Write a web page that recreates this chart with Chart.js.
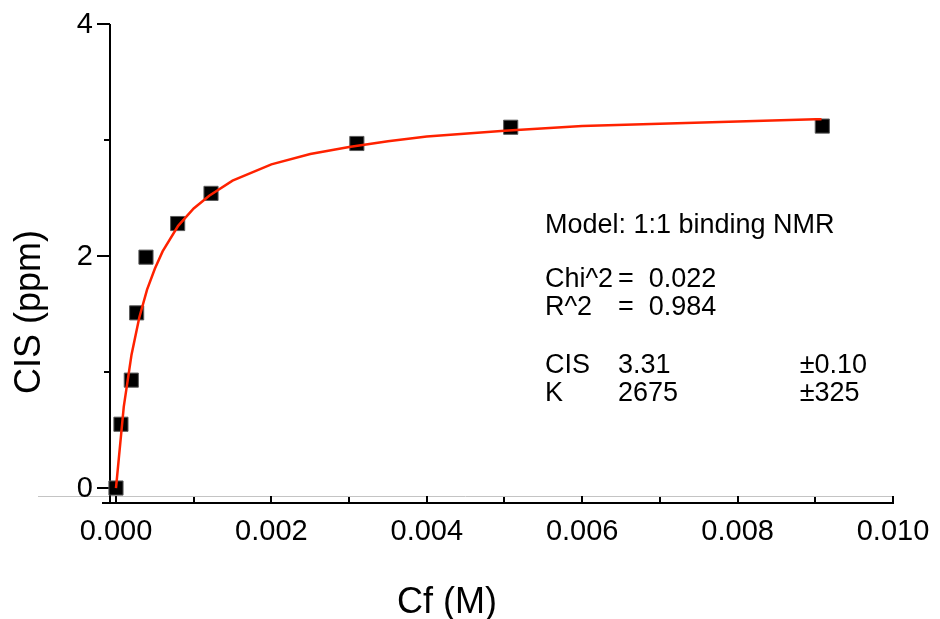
<!DOCTYPE html>
<html>
<head>
<meta charset="utf-8">
<title>CIS vs Cf</title>
<script src="https://cdn.jsdelivr.net/npm/chart.js@4/dist/chart.umd.min.js"></script>
<style>
  html, body { margin: 0; padding: 0; background: #fff; }
  #wrap { width: 940px; height: 619px; position: relative; }
</style>
</head>
<body>
<div id="wrap"><canvas id="bindingChart"></canvas></div>
<script>
// measured shifts
const cfValues  = [0, 0.000064, 0.000197, 0.000266, 0.000386, 0.000794, 0.001223, 0.00310, 0.00508, 0.00909];
const cisValues = [0, 0.55, 0.93, 1.51, 1.99, 2.28, 2.54, 2.97, 3.11, 3.12];

// fitted 1:1 binding curve
const fitCf  = [0, 0.0001, 0.0002, 0.0003, 0.0004, 0.0005, 0.0006, 0.0008, 0.001, 0.0012, 0.0015,
                0.002, 0.0025, 0.003, 0.0035, 0.004, 0.005, 0.006, 0.007, 0.008, 0.009, 0.00908];
const fitCis = [0, 0.70, 1.15, 1.47, 1.71, 1.89, 2.04, 2.26, 2.41, 2.52, 2.65,
                2.79, 2.88, 2.94, 2.99, 3.03, 3.08, 3.12, 3.14, 3.16, 3.18, 3.18];

// axis ticks
const xTicks      = [0, 0.002, 0.004, 0.006, 0.008, 0.010];
const xTickLabels = ["0.000", "0.002", "0.004", "0.006", "0.008", "0.010"];
const xMinorTicks = [0.001, 0.003, 0.005, 0.007, 0.009];
const yTicks      = [0, 2, 4];
const yTickLabels = ["0", "2", "4"];
const yMinorTicks = [1, 3];

// fit summary box
const fitLines = [
  { text: ["Model: 1:1 binding NMR"], y: 2.198 },
  { text: ["Chi^2", "=  0.022"], y: 1.733 },
  { text: ["R^2", "=  0.984"], y: 1.491 },
  { text: ["CIS", "3.31", "\u00b10.10"], y: 0.991 },
  { text: ["K", "2675", "\u00b1325"], y: 0.750 }
];
const fitCols = [0.00552, 0.00646, 0.00880];

const FONT = '"Liberation Sans", Arial, Helvetica, sans-serif';

const pts = (xs, ys) => xs.map((v, i) => ({ x: v, y: ys[i] }));

const axesPlugin = {
  id: "frameAxes",
  beforeDatasetsDraw(chart) {
    const { ctx, chartArea: a, scales: { x, y } } = chart;
    ctx.save();

    // light guide above the axis
    ctx.strokeStyle = "#c4c4c4";
    ctx.lineWidth = 1;
    ctx.beginPath();
    ctx.moveTo(38, a.bottom - 6.5);
    ctx.lineTo(a.right, a.bottom - 6.5);
    ctx.stroke();

    ctx.strokeStyle = "#000";
    ctx.lineWidth = 2;
    // x axis
    ctx.beginPath();
    ctx.moveTo(a.left - 8, a.bottom);
    ctx.lineTo(a.right + 1, a.bottom);
    ctx.stroke();
    // y axis
    ctx.beginPath();
    ctx.moveTo(a.left, a.top);
    ctx.lineTo(a.left, a.bottom);
    ctx.stroke();

    // x ticks point up
    xTicks.forEach(v => {
      const px = Math.round(x.getPixelForValue(v));
      ctx.beginPath();
      ctx.moveTo(px, a.bottom);
      ctx.lineTo(px, a.bottom - 7);
      ctx.stroke();
    });
    xMinorTicks.forEach(v => {
      const px = Math.round(x.getPixelForValue(v));
      ctx.beginPath();
      ctx.moveTo(px, a.bottom);
      ctx.lineTo(px, a.bottom - 6);
      ctx.stroke();
    });
    // y ticks point left
    yTicks.forEach(v => {
      const py = Math.round(y.getPixelForValue(v));
      ctx.beginPath();
      ctx.moveTo(a.left, py);
      ctx.lineTo(a.left - 13, py);
      ctx.stroke();
    });
    yMinorTicks.forEach(v => {
      const py = Math.round(y.getPixelForValue(v));
      ctx.beginPath();
      ctx.moveTo(a.left, py);
      ctx.lineTo(a.left - 6, py);
      ctx.stroke();
    });

    ctx.fillStyle = "#000";
    ctx.font = "29px " + FONT;
    ctx.textAlign = "center";
    ctx.textBaseline = "alphabetic";
    xTicks.forEach((v, i) => {
      ctx.fillText(xTickLabels[i], x.getPixelForValue(v), a.bottom + 37);
    });
    ctx.textAlign = "right";
    ctx.textBaseline = "middle";
    yTicks.forEach((v, i) => {
      ctx.fillText(yTickLabels[i], a.left - 17, y.getPixelForValue(v) + 1);
    });

    // axis titles
    ctx.font = "36px " + FONT;
    ctx.textAlign = "center";
    ctx.textBaseline = "alphabetic";
    ctx.fillText("Cf (M)", 447, 613);
    ctx.save();
    ctx.translate(40, 312);
    ctx.rotate(-Math.PI / 2);
    ctx.fillText("CIS (ppm)", 0, 0);
    ctx.restore();

    ctx.restore();
  },
  afterDatasetsDraw(chart) {
    const { ctx, scales: { x, y } } = chart;
    ctx.save();
    ctx.fillStyle = "#000";
    ctx.font = "27px " + FONT;
    ctx.textAlign = "left";
    ctx.textBaseline = "alphabetic";
    fitLines.forEach(line => {
      line.text.forEach((t, i) => {
        ctx.fillText(t, x.getPixelForValue(fitCols[i]), y.getPixelForValue(line.y));
      });
    });
    ctx.restore();
  }
};

new Chart(document.getElementById("bindingChart"), {
  type: "scatter",
  data: {
    datasets: [
      {
        label: "fit",
        type: "line",
        data: pts(fitCf, fitCis),
        borderColor: "#ff2200",
        borderWidth: 2.5,
        pointRadius: 0,
        tension: 0,
        fill: false,
        clip: false
      },
      {
        label: "CIS",
        data: pts(cfValues, cisValues),
        pointStyle: "rect",
        pointRadius: 10,
        pointHoverRadius: 10,
        backgroundColor: "#000",
        borderColor: "#5a5a5a",
        borderWidth: 1,
        clip: false
      }
    ]
  },
  options: {
    responsive: true,
    maintainAspectRatio: false,
    animation: false,
    layout: { padding: { left: 110, right: 47, top: 24, bottom: 116 } },
    plugins: {
      legend: { display: false },
      tooltip: { enabled: false }
    },
    scales: {
      x: { type: "linear", min: -0.000077, max: 0.010, display: false },
      y: { type: "linear", min: -0.129, max: 4, display: false }
    }
  },
  plugins: [axesPlugin]
});
</script>
</body>
</html>
